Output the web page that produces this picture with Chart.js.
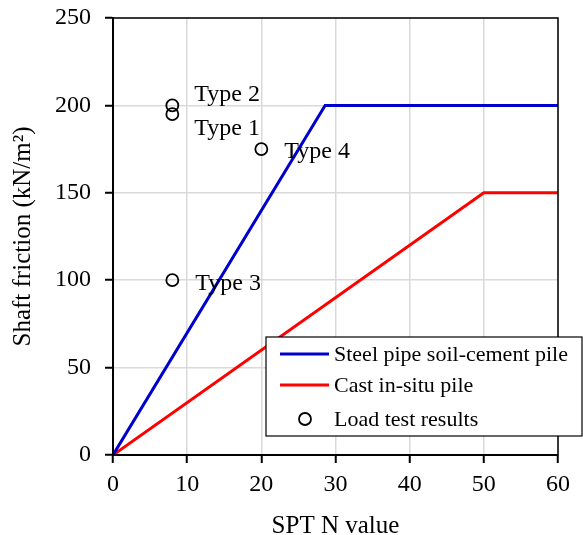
<!DOCTYPE html>
<html>
<head>
<meta charset="utf-8">
<script src="https://cdn.jsdelivr.net/npm/chart.js@4/dist/chart.umd.min.js"></script>
<style>
  html, body { margin: 0; padding: 0; background: #fff; }
  #wrap { width: 583px; height: 535px; }
</style>
</head>
<body>
<div id="wrap"><canvas id="myChart" width="583" height="535"></canvas></div>
<script>
// design curves: SPT N value vs shaft friction
var steelN = [0, 28.6, 60];
var steelF = [0, 200, 200];
var castN = [0, 50, 60];
var castF = [0, 150, 150];
// load tests
var testN = [8, 8, 20, 8];
var testF = [200, 195, 175, 100];
var testNames = ['Type 2', 'Type 1', 'Type 4', 'Type 3'];
var seriesNames = ['Steel pipe soil-cement pile', 'Cast in-situ pile', 'Load test results'];

var FONT = 'Liberation Serif, Times New Roman, serif';

function pts(xs, ys) {
  var out = [];
  for (var i = 0; i < xs.length; i++) out.push({x: xs[i], y: ys[i]});
  return out;
}

// label offsets from each test point (px)
var labelOffsets = [[22, -4], [22, 21], [23, 9], [23, 10]];

var framePlugin = {
  id: 'frame',
  afterDatasetsDraw: function(chart) {
    var c = chart.ctx, a = chart.chartArea;
    var xs = chart.scales.x, ys = chart.scales.y;
    c.save();
    // box round the plot
    c.strokeStyle = '#000';
    c.lineWidth = 1.5;
    c.strokeRect(a.left, a.top, a.right - a.left, a.bottom - a.top);
    // point names
    c.fillStyle = '#000';
    c.font = '24px ' + FONT;
    c.textBaseline = 'alphabetic';
    for (var i = 0; i < testNames.length; i++) {
      var px = xs.getPixelForValue(testN[i]);
      var py = ys.getPixelForValue(testF[i]);
      c.fillText(testNames[i], px + labelOffsets[i][0], py + labelOffsets[i][1]);
    }
    // legend box
    var lx = 266, ly = 337, lw = 316, lh = 99;
    c.fillStyle = '#fff';
    c.fillRect(lx, ly, lw, lh);
    c.lineWidth = 1.2;
    c.strokeRect(lx, ly, lw, lh);
    c.font = '22px ' + FONT;
    var rows = [354, 385, 419];
    var ds = chart.data.datasets;
    for (var j = 0; j < 3; j++) {
      c.strokeStyle = ds[j].borderColor;
      c.lineWidth = ds[j].borderWidth;
      c.beginPath();
      if (j < 2) {
        c.moveTo(280, rows[j]);
        c.lineTo(329, rows[j]);
      } else {
        c.arc(305, rows[j], ds[j].pointRadius, 0, Math.PI * 2);
      }
      c.stroke();
      c.fillStyle = '#000';
      c.textBaseline = 'middle';
      c.fillText(seriesNames[j], 334, rows[j] + 1);
    }
    c.restore();
  }
};

var ctx = document.getElementById('myChart').getContext('2d');
var myChart = new Chart(ctx, {
  type: 'line',
  data: {
    datasets: [{
      label: seriesNames[0],
      data: pts(steelN, steelF),
      borderColor: 'rgb(0, 0, 204)',
      borderWidth: 3,
      pointRadius: 0,
      fill: false,
      tension: 0
    }, {
      label: seriesNames[1],
      data: pts(castN, castF),
      borderColor: 'rgb(255, 0, 0)',
      borderWidth: 3,
      pointRadius: 0,
      fill: false,
      tension: 0
    }, {
      type: 'scatter',
      label: seriesNames[2],
      data: pts(testN, testF),
      showLine: false,
      borderColor: '#000',
      backgroundColor: 'rgba(0,0,0,0)',
      borderWidth: 1.8,
      pointRadius: 6,
      pointHoverRadius: 6
    }]
  },
  options: {
    responsive: false,
    animation: false,
    layout: { padding: { top: 18, right: 25, left: 0, bottom: 0 } },
    plugins: {
      legend: { display: false },
      tooltip: { enabled: false }
    },
    scales: {
      x: {
        type: 'linear',
        min: 0, max: 60,
        ticks: { stepSize: 10, color: '#000', padding: 7, font: { family: FONT, size: 24 } },
        grid: { color: '#d9d9d9', tickColor: '#000', tickLength: 8, tickWidth: 2, lineWidth: 1.5 },
        border: { color: '#000', width: 2 },
        title: { display: true, text: 'SPT N value', color: '#000', padding: { top: 10, bottom: -6 }, font: { family: FONT, size: 25 } },
        afterFit: function(s) { s.height = 80; s.paddingLeft = 0; s.paddingRight = 0; }
      },
      y: {
        min: 0, max: 250,
        ticks: { stepSize: 50, color: '#000', padding: 14, font: { family: FONT, size: 24 } },
        grid: { color: '#d9d9d9', tickColor: '#000', tickLength: 8, tickWidth: 2, lineWidth: 1.5 },
        border: { color: '#000', width: 2 },
        title: { display: true, text: 'Shaft friction (kN/m\u00b2)', color: '#000', padding: { top: 8, bottom: 4 }, font: { family: FONT, size: 25 } },
        afterFit: function(s) { s.width = 113; s.paddingTop = 0; s.paddingBottom = 0; }
      }
    }
  },
  plugins: [framePlugin]
});
</script>
</body>
</html>
